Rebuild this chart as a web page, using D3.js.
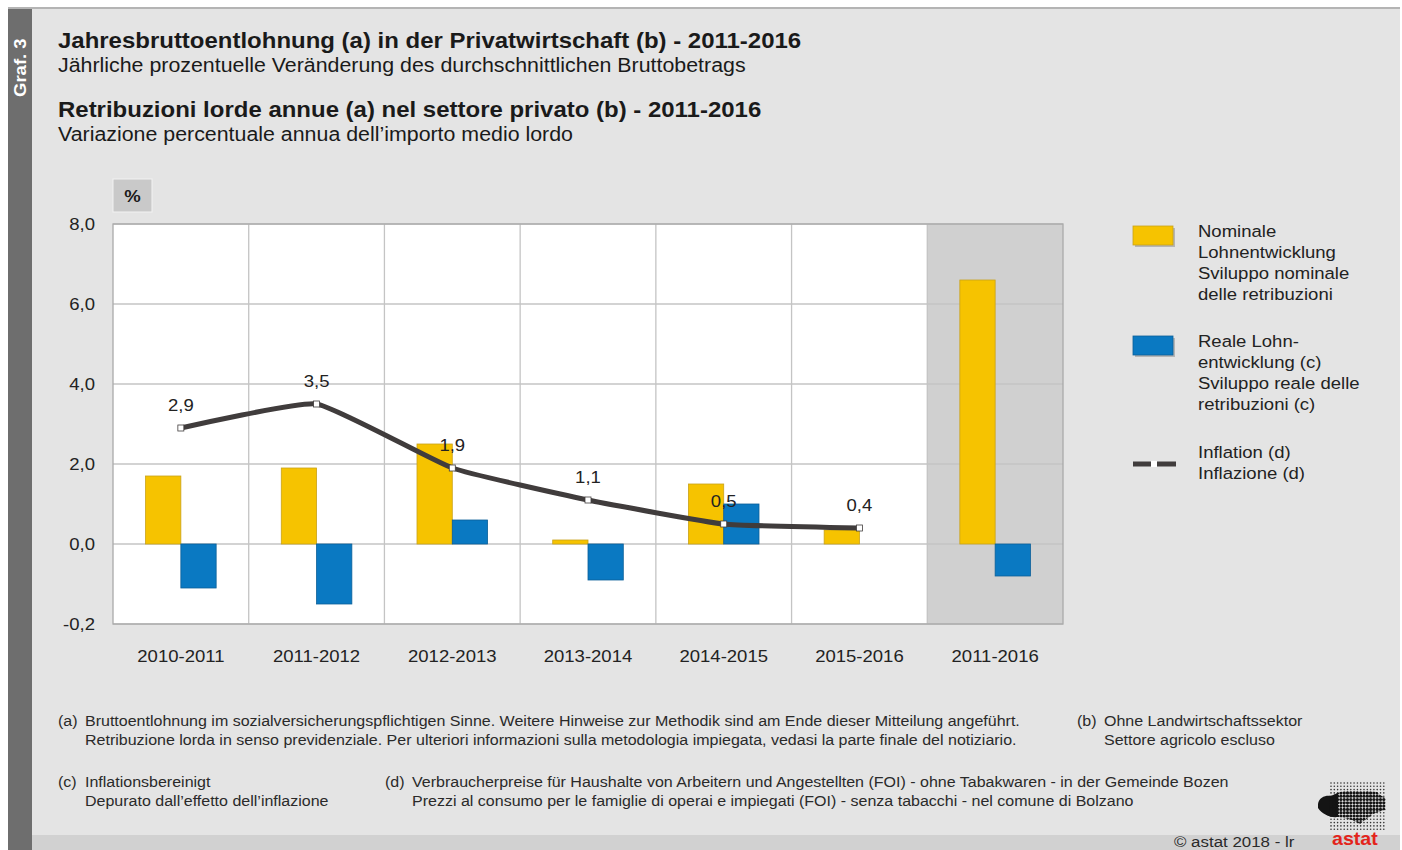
<!DOCTYPE html>
<html>
<head>
<meta charset="utf-8">
<script src="https://cdn.jsdelivr.net/npm/d3@7"></script>
<style>
  body { margin: 0; background: #fff; }
  svg { display: block; font-family: "Liberation Sans", Arial, sans-serif; }
</style>
</head>
<body>
<div id="chart"></div>
<script>
// data
const categories = ["2010-2011", "2011-2012", "2012-2013", "2013-2014", "2014-2015", "2015-2016", "2011-2016"];
const nominal = [1.7, 1.9, 2.5, 0.1, 1.5, 0.35, 6.6];
const real = [-1.1, -1.5, 0.6, -0.9, 1.0, 0, -0.8];
const inflation = [2.9, 3.5, 1.9, 1.1, 0.5, 0.4];
const inflationLabels = ["2,9", "3,5", "1,9", "1,1", "0,5", "0,4"];
const yTicks = [-2, 0, 2, 4, 6, 8];
const yTickLabels = ["-0,2", "0,0", "2,0", "4,0", "6,0", "8,0"];

const W = 1402, H = 850;
const textStretch = 1.09; // the source lettering is a bit wider than Arial
const svg = d3.select("#chart").append("svg").attr("width", W).attr("height", H);

// panel background
svg.append("rect").attr("x", 8).attr("y", 7).attr("width", 1392).attr("height", H - 7).attr("fill", "#e4e4e4");
svg.append("rect").attr("x", 8).attr("y", 7).attr("width", 1392).attr("height", 2).attr("fill", "#b4b4b4");
svg.append("rect").attr("x", 32).attr("y", 835).attr("width", 1368).attr("height", 15).attr("fill", "#d1d1d1");
svg.append("rect").attr("x", 8).attr("y", 9).attr("width", 24).attr("height", H - 9).attr("fill", "#6e6e6e");
svg.append("text")
    .attr("class", "norescale")
    .attr("transform", "translate(26,97) rotate(-90) scale(1.09,1)")
    .attr("fill", "#fff").attr("font-size", 17).attr("font-weight", "bold")
    .text("Graf. 3");

// titles
const titles = [
    { t: "Jahresbruttoentlohnung (a) in der Privatwirtschaft (b) - 2011-2016", y: 48, bold: true },
    { t: "Jährliche prozentuelle Veränderung des durchschnittlichen Bruttobetrags", y: 72, bold: false },
    { t: "Retribuzioni lorde annue (a) nel settore privato (b) - 2011-2016", y: 117, bold: true },
    { t: "Variazione percentuale annua dell’importo medio lordo", y: 141, bold: false }
];
svg.selectAll(".title").data(titles).enter().append("text")
    .attr("x", 58).attr("y", d => d.y)
    .attr("font-size", d => d.bold ? 22 : 19.6)
    .attr("font-weight", d => d.bold ? "bold" : "normal")
    .attr("fill", "#1a1a1a")
    .text(d => d.t);

// scales
const x = d3.scaleBand().domain(categories).range([113, 1063]).padding(0);
const y = d3.scaleLinear().domain([-2, 8]).range([624, 224]);
const bw = x.bandwidth();
const barW = bw * 0.26;

// plot area
svg.append("rect").attr("x", 113).attr("y", y(8)).attr("width", 950).attr("height", y(-2) - y(8)).attr("fill", "#fff");
const last = categories[categories.length - 1];
svg.append("rect").attr("x", x(last)).attr("y", y(8)).attr("width", bw).attr("height", y(-2) - y(8)).attr("fill", "#d0d0d0");

// % box
svg.append("rect").attr("x", 113).attr("y", 179).attr("width", 39).attr("height", 33)
    .attr("fill", "#c9c9c9").attr("stroke", "#f2f2f2").attr("stroke-width", 1);
svg.append("text").attr("x", 132.5).attr("y", 202).attr("text-anchor", "middle")
    .attr("font-size", 17).attr("font-weight", "bold").attr("fill", "#1a1a1a").text("%");

// grid
svg.append("g").selectAll("line").data(yTicks).enter().append("line")
    .attr("x1", 113).attr("x2", 1063).attr("y1", d => y(d)).attr("y2", d => y(d))
    .attr("stroke", "#c4c4c4").attr("stroke-width", 1.3);
svg.append("g").selectAll("line").data(categories.slice(1)).enter().append("line")
    .attr("x1", d => x(d)).attr("x2", d => x(d)).attr("y1", y(8)).attr("y2", y(-2))
    .attr("stroke", "#c4c4c4").attr("stroke-width", 1.3);
svg.append("rect").attr("x", 113).attr("y", y(8)).attr("width", 950).attr("height", y(-2) - y(8))
    .attr("fill", "none").attr("stroke", "#aaa").attr("stroke-width", 1.3);

// y axis
const yAxis = svg.append("g").attr("transform", "translate(113,0)")
    .call(d3.axisLeft(y).tickValues(yTicks).tickSize(0).tickPadding(18)
        .tickFormat((d, i) => yTickLabels[i]));
yAxis.select(".domain").remove();
yAxis.selectAll("text").attr("font-size", 17).attr("fill", "#222")
    .attr("font-family", "Liberation Sans, Arial, sans-serif");

// x axis
const xAxis = svg.append("g").attr("transform", `translate(0,${y(-2)})`)
    .call(d3.axisBottom(x).tickSize(0).tickPadding(26));
xAxis.select(".domain").remove();
xAxis.selectAll("text").attr("font-size", 17).attr("fill", "#222")
    .attr("font-family", "Liberation Sans, Arial, sans-serif");

// bars
const cx = c => x(c) + bw / 2;
svg.append("g").selectAll("rect").data(categories).enter().append("rect")
    .attr("x", d => cx(d) - barW)
    .attr("y", (d, i) => y(Math.max(0, nominal[i])))
    .attr("width", barW)
    .attr("height", (d, i) => Math.abs(y(nominal[i]) - y(0)))
    .attr("fill", "#f6c300").attr("stroke", "#c9a21a").attr("stroke-width", 0.8);
svg.append("g").selectAll("rect").data(categories).enter().append("rect")
    .attr("x", d => cx(d))
    .attr("y", (d, i) => y(Math.max(0, real[i])))
    .attr("width", barW)
    .attr("height", (d, i) => Math.abs(y(real[i]) - y(0)))
    .attr("fill", "#0a79c2").attr("stroke", "#0b5f98").attr("stroke-width", 0.8)
    .attr("display", (d, i) => real[i] === 0 ? "none" : null);

// inflation line
const pts = inflation.map((v, i) => [cx(categories[i]), y(v)]);
svg.append("path").datum(pts)
    .attr("d", d3.line().curve(d3.curveCardinal.tension(0.6)))
    .attr("fill", "none").attr("stroke", "#403c3c").attr("stroke-width", 5);
svg.append("g").selectAll("rect").data(pts).enter().append("rect")
    .attr("x", d => d[0] - 3).attr("y", d => d[1] - 3).attr("width", 6).attr("height", 6)
    .attr("fill", "#fff").attr("stroke", "#403c3c").attr("stroke-width", 0.8);
svg.append("g").selectAll("text").data(pts).enter().append("text")
    .attr("x", d => d[0]).attr("y", d => d[1] - 17).attr("text-anchor", "middle")
    .attr("font-size", 17).attr("fill", "#222")
    .text((d, i) => inflationLabels[i]);

// legend
const legend = svg.append("g");
const legendItems = [
    { type: "bar", color: "#f6c300", stroke: "#c9a21a", y: 226, lines: ["Nominale", "Lohnentwicklung", "Sviluppo nominale", "delle retribuzioni"] },
    { type: "bar", color: "#0a79c2", stroke: "#0b5f98", y: 336, lines: ["Reale Lohn-", "entwicklung (c)", "Sviluppo reale delle", "retribuzioni (c)"] },
    { type: "line", y: 447, lines: ["Inflation (d)", "Inflazione (d)"] }
];
legendItems.forEach(it => {
    if (it.type === "bar") {
        legend.append("rect").attr("x", 1135).attr("y", it.y + 2).attr("width", 40).attr("height", 19).attr("fill", "#b5b5b5");
        legend.append("rect").attr("x", 1133).attr("y", it.y).attr("width", 40).attr("height", 19)
            .attr("fill", it.color).attr("stroke", it.stroke).attr("stroke-width", 0.8);
    } else {
        legend.append("line").attr("x1", 1133).attr("x2", 1176).attr("y1", 464).attr("y2", 464)
            .attr("stroke", "#403c3c").attr("stroke-width", 5);
        legend.append("rect").attr("x", 1151).attr("y", 461).attr("width", 6).attr("height", 6)
            .attr("fill", "#fff");
    }
    legend.append("text").attr("x", 1198).attr("y", it.y + 11)
        .attr("font-size", 17).attr("fill", "#222")
        .selectAll("tspan").data(it.lines).enter().append("tspan")
        .attr("x", 1198).attr("dy", (d, i) => i === 0 ? 0 : 21).text(d => d);
});

// footnotes
const notes = [
    { k: "(a)", x: 58, y: 726, lines: ["Bruttoentlohnung im sozialversicherungspflichtigen Sinne. Weitere Hinweise zur Methodik sind am Ende dieser Mitteilung angeführt.", "Retribuzione lorda in senso previdenziale. Per ulteriori informazioni sulla metodologia impiegata, vedasi la parte finale del notiziario."] },
    { k: "(b)", x: 1077, y: 726, lines: ["Ohne Landwirtschaftssektor", "Settore agricolo escluso"] },
    { k: "(c)", x: 58, y: 787, lines: ["Inflationsbereinigt", "Depurato dall’effetto dell’inflazione"] },
    { k: "(d)", x: 385, y: 787, lines: ["Verbraucherpreise für Haushalte von Arbeitern und Angestellten (FOI) - ohne Tabakwaren - in der Gemeinde Bozen", "Prezzi al consumo per le famiglie di operai e impiegati (FOI) - senza tabacchi - nel comune di Bolzano"] }
];
notes.forEach(n => {
    const g = svg.append("g").attr("font-size", 14.7).attr("fill", "#2a2a2a");
    g.append("text").attr("x", n.x).attr("y", n.y).text(n.k);
    g.append("text").attr("x", n.x + 27).attr("y", n.y)
        .selectAll("tspan").data(n.lines).enter().append("tspan")
        .attr("x", n.x + 27).attr("dy", (d, i) => i === 0 ? 0 : 19).text(d => d);
});

// copyright
svg.append("text").attr("x", 1174).attr("y", 847).attr("font-size", 15.5).attr("fill", "#2a2a2a")
    .text("©  astat 2018 - lr");

// astat logo (dot grid + dark region)
const logo = svg.append("g");
const blob = "M1318,804 C1319,797 1326,795 1331,796 L1340,792 C1348,790 1358,792 1368,791 L1377,792 C1381,797 1388,798 1396,805 C1395,810 1389,812 1384,810 L1373,814 C1369,818 1364,820 1360,824 L1356,822 C1350,819 1345,818 1338,817 C1330,818 1322,814 1318,808 Z";
logo.append("clipPath").attr("id", "blobclip").append("path").attr("d", blob);
const dots = [];
for (let i = 0; i < 17; i++) for (let j = 0; j < 15; j++) dots.push([1331 + i * 3.3, 783 + j * 3.3]);
logo.selectAll("circle.small").data(dots).enter().append("circle")
    .attr("cx", d => d[0]).attr("cy", d => d[1]).attr("r", 0.8).attr("fill", "#333");
const left = logo.append("g").attr("clip-path", "url(#blobclip)");
left.append("rect").attr("x", 1316).attr("y", 788).attr("width", 22).attr("height", 36).attr("fill", "#141414");
left.selectAll("circle").data(dots).enter().append("circle")
    .attr("cx", d => d[0]).attr("cy", d => d[1]).attr("r", 1.6).attr("fill", "#141414");
svg.append("text").attr("x", 1332).attr("y", 845).attr("font-size", 18).attr("font-weight", "bold")
    .attr("fill", "#e3241b").text("astat");

// widen lettering around each text's own x
svg.selectAll("text").each(function () {
    if (this.getAttribute("class") === "norescale") return;
    const x0 = +this.getAttribute("x") || 0;
    d3.select(this).attr("transform", `translate(${x0},0) scale(${textStretch},1) translate(${-x0},0)`);
});
</script>
</body>
</html>
